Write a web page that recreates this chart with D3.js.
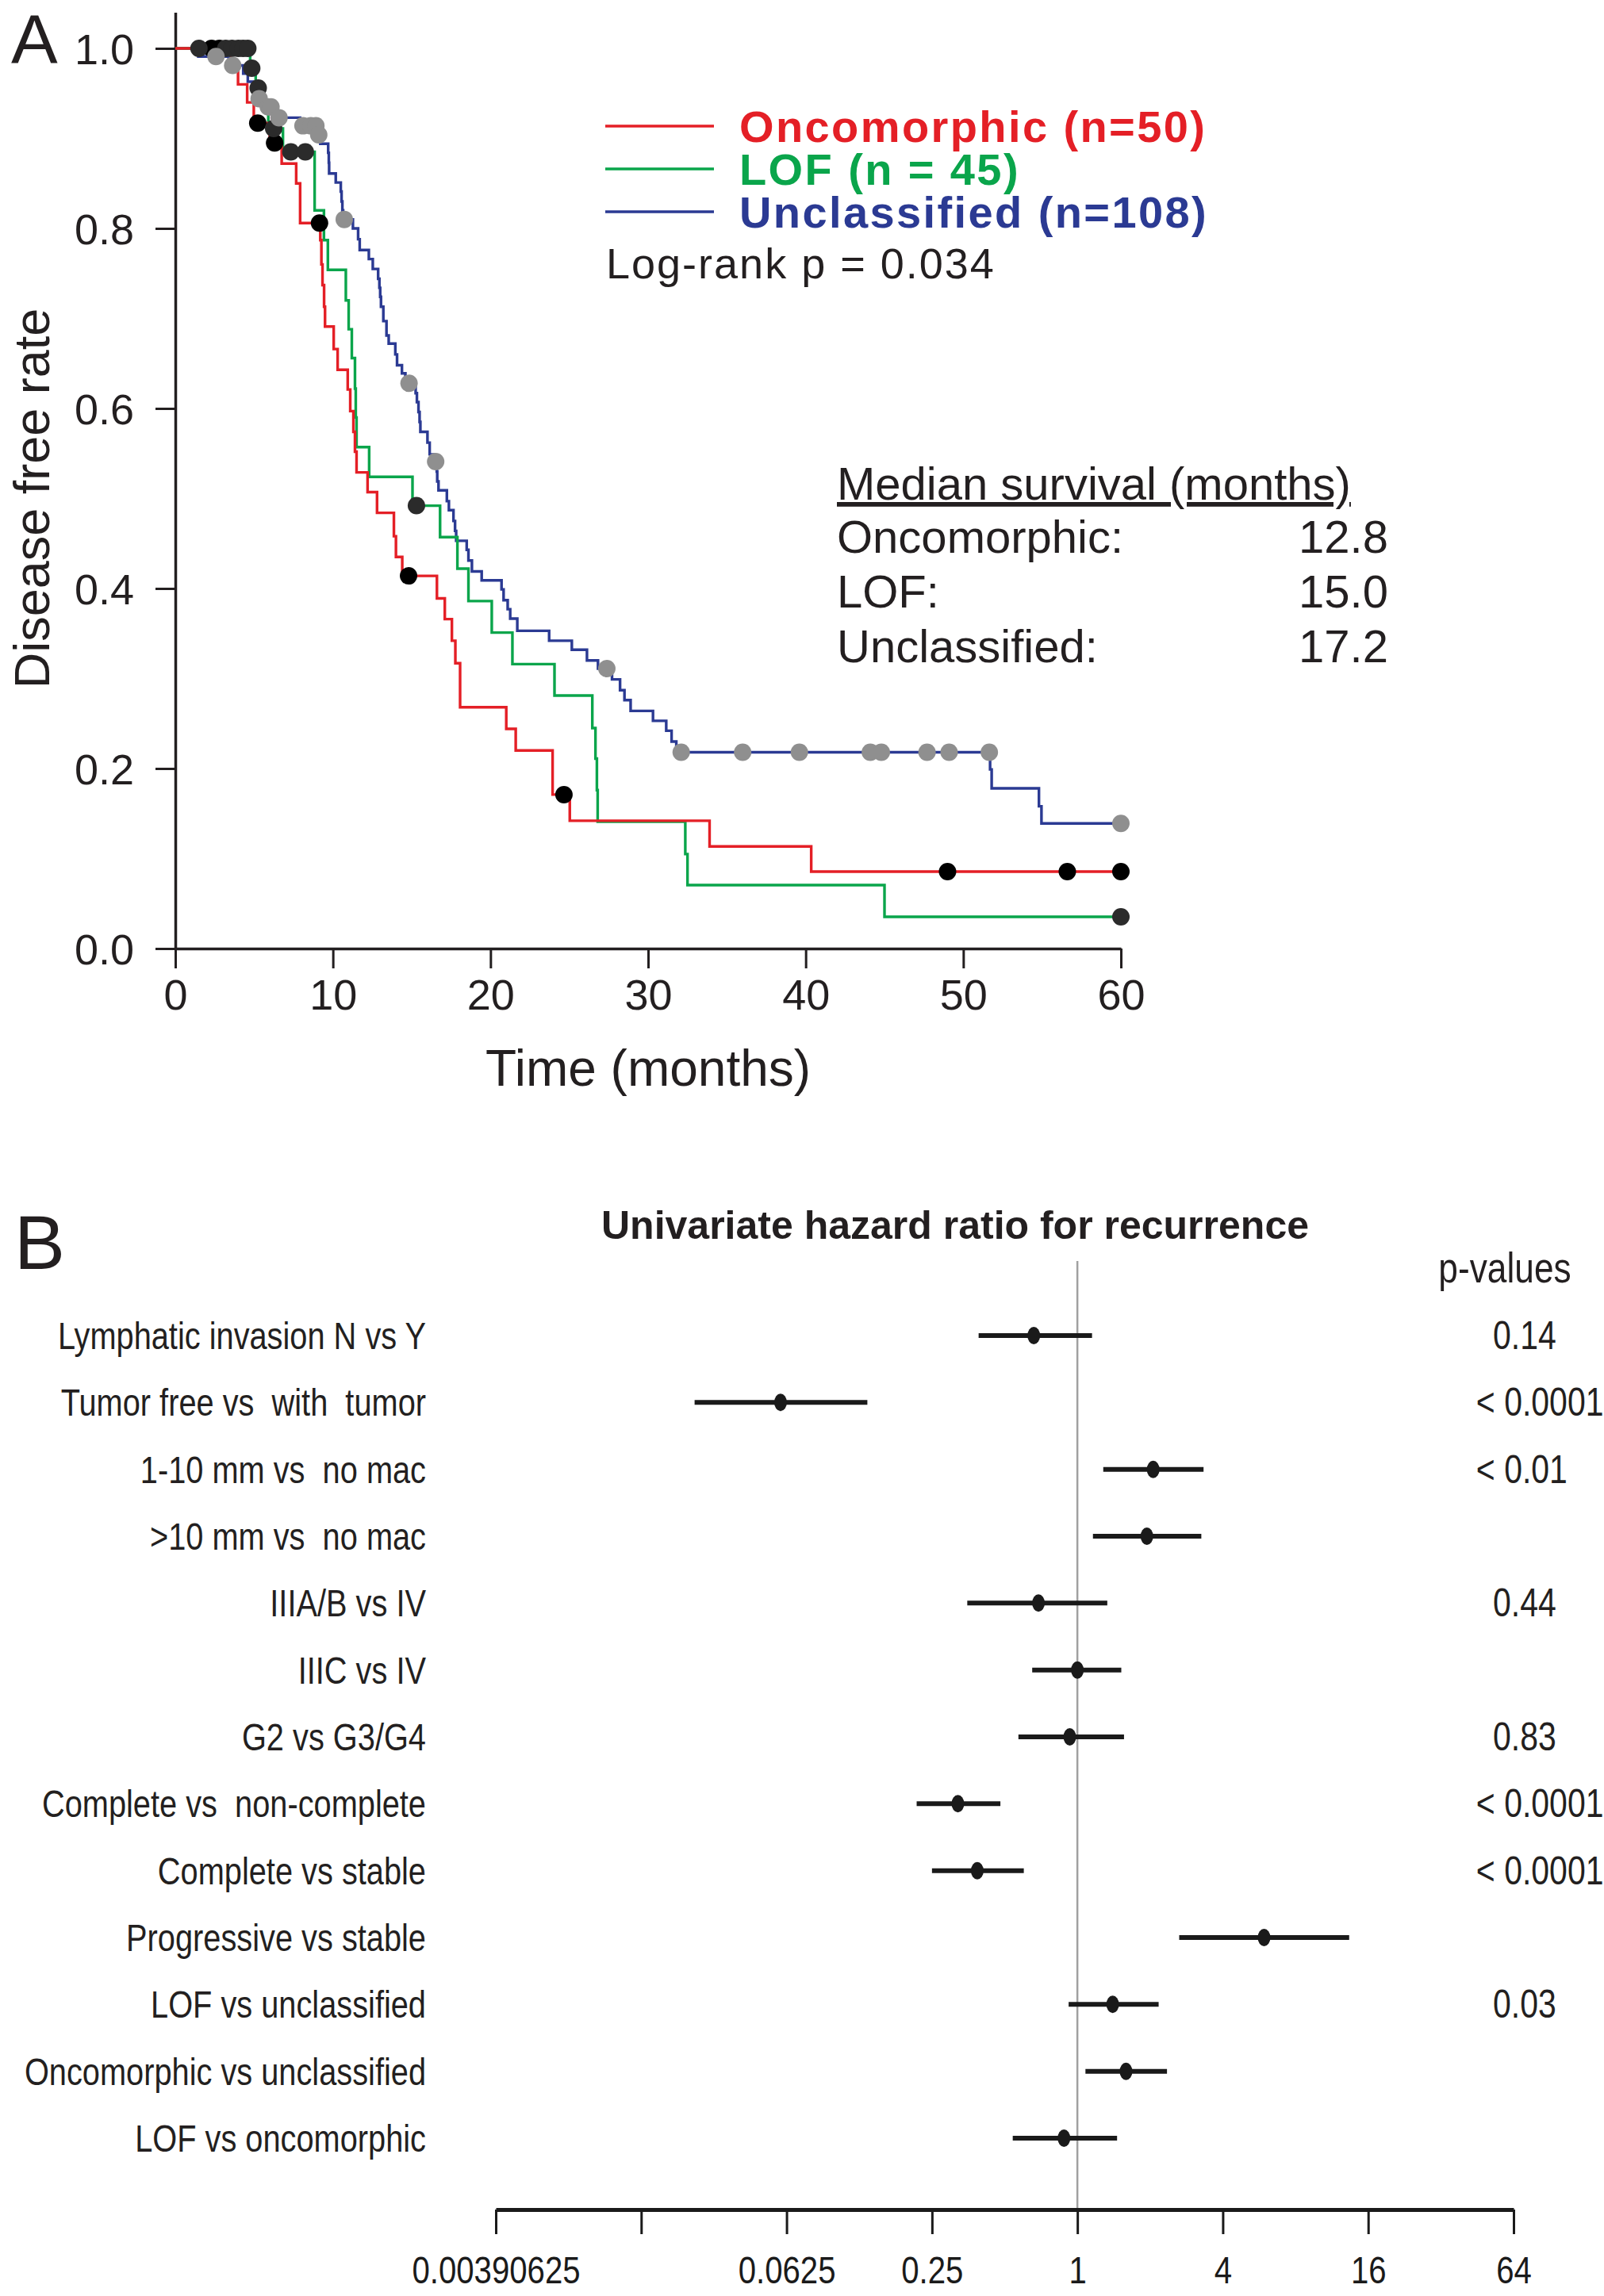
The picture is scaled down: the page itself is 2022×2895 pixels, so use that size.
<!DOCTYPE html>
<meta charset="utf-8">
<head>
    <title>Disease free survival and hazard ratios</title>
    <script src="https://cdn.jsdelivr.net/npm/d3@7"></script>
</head>

<style>
    body { margin: 0; background: #fff; }
    svg { display: block; font-family: "Liberation Sans", Arial, sans-serif; }
    text { white-space: pre; }
</style>

<svg></svg>

<script>
    var vWidth = 2022;
    var vHeight = 2895;

    // ---- Panel A: Kaplan-Meier curves, steps are [month, survival after the drop]
    var oncoSteps = [[3.56, 0.98], [3.98, 0.96], [4.56, 0.94], [4.98, 0.917], [5.99, 0.895], [6.75, 0.872],
        [7.67, 0.85], [7.92, 0.806], [9.2, 0.787], [9.27, 0.76], [9.34, 0.737], [9.44, 0.713], [9.5, 0.691],
        [10.05, 0.666], [10.3, 0.643], [10.94, 0.621], [11.1, 0.597], [11.3, 0.574], [11.4, 0.552], [11.5, 0.529],
        [12.2, 0.507], [12.8, 0.484], [13.87, 0.458], [14.0, 0.435], [14.4, 0.414], [16.6, 0.389], [17.1, 0.366],
        [17.55, 0.342], [17.77, 0.317], [18.07, 0.268], [21.0, 0.244], [21.6, 0.22], [23.94, 0.171], [25.03, 0.142],
        [33.9, 0.1135], [40.35, 0.0854]];
    var oncoCensor = [2.3, 2.8, 5.23, 6.3, 9.15, 14.8, 24.66, 49.0, 56.6, 60];

    var lofSteps = [[4.75, 0.978], [5.1, 0.956], [5.5, 0.933], [5.9, 0.911], [6.83, 0.885], [8.84, 0.82],
        [9.43, 0.787], [9.68, 0.754], [10.82, 0.72], [11.0, 0.688], [11.2, 0.656], [11.4, 0.622], [11.45, 0.59],
        [11.5, 0.557], [12.3, 0.524], [15.05, 0.492], [16.8, 0.457], [17.9, 0.422], [18.6, 0.386], [20.08, 0.351],
        [21.39, 0.316], [24.06, 0.281], [26.46, 0.245], [26.66, 0.211], [26.75, 0.176], [26.8, 0.141],
        [32.36, 0.105], [32.5, 0.0705], [45.0, 0.0352]];
    var lofCensor = [1.5, 3.2, 3.6, 4.0, 4.3, 4.6, 4.85, 5.26, 6.24, 7.33, 8.25, 15.3, 60];

    var unclSteps = [[1.46, 0.991], [3.39, 0.981], [4.31, 0.972], [4.6, 0.963], [4.9, 0.954], [5.2, 0.944],
        [5.7, 0.935], [6.45, 0.923], [7.92, 0.914], [9.05, 0.904], [9.2, 0.894], [9.7, 0.884], [9.74, 0.873],
        [9.76, 0.861], [10.18, 0.851], [10.5, 0.841], [10.55, 0.83], [10.6, 0.82], [10.65, 0.81], [11.27, 0.8],
        [11.6, 0.788], [11.7, 0.776], [12.28, 0.766], [12.53, 0.755], [12.87, 0.744], [12.95, 0.734], [13.0, 0.724],
        [13.05, 0.713], [13.2, 0.697], [13.4, 0.681], [13.54, 0.672], [13.96, 0.66], [14.07, 0.648], [14.38, 0.639],
        [14.6, 0.628], [15.25, 0.617], [15.33, 0.607], [15.43, 0.596], [15.5, 0.585], [15.55, 0.574], [16.0, 0.562],
        [16.14, 0.549], [16.4, 0.541], [16.59, 0.53], [16.62, 0.519], [16.7, 0.509], [17.23, 0.497], [17.36, 0.487],
        [17.65, 0.475], [17.75, 0.464], [17.82, 0.453], [18.49, 0.443], [18.6, 0.431], [18.82, 0.419], [19.44, 0.409],
        [20.7, 0.399], [20.83, 0.387], [21.09, 0.377], [21.25, 0.3665], [21.7, 0.353], [23.72, 0.342], [25.16, 0.332],
        [26.12, 0.32], [26.82, 0.311], [27.71, 0.299], [28.22, 0.287], [28.5, 0.276], [28.89, 0.264], [30.31, 0.253],
        [31.15, 0.242], [31.49, 0.23], [31.79, 0.218], [51.7, 0.199], [51.8, 0.178], [54.8, 0.158], [54.96, 0.139]];
    var unclCensor = [2.58, 3.64, 5.32, 5.9, 6.07, 6.58, 8.1, 8.6, 8.92, 9.1, 10.72, 14.83, 16.52, 27.38,
        32.1, 36.0, 39.6, 44.1, 44.8, 47.7, 49.1, 51.65, 60];

    var groupNames = ["Oncomorphic (n=50)", "LOF (n = 45)", "Unclassified (n=108)"];
    var groupColors = ["#e41f26", "#0aa54b", "#2b3a93"];
    var censorColors = ["#000000", "#2b2b2b", "#8f8f8f"];
    var medianLabels = ["Oncomorphic:", "LOF:", "Unclassified:"];
    var medianValues = ["12.8", "15.0", "17.2"];
    var monthTicks = [0, 10, 20, 30, 40, 50, 60];
    var rateTicks = [0, 0.2, 0.4, 0.6, 0.8, 1.0];

    // ---- Panel B: univariate hazard ratios
    var hrLabels = ["Lymphatic invasion N vs Y", "Tumor free vs  with  tumor", "1-10 mm vs  no mac", ">10 mm vs  no mac",
        "IIIA/B vs IV", "IIIC vs IV", "G2 vs G3/G4", "Complete vs  non-complete", "Complete vs stable",
        "Progressive vs stable", "LOF vs unclassified", "Oncomorphic vs unclassified", "LOF vs oncomorphic"];
    var hrPoint = [0.66, 0.059, 2.06, 1.94, 0.69, 1.0, 0.93, 0.32, 0.385, 5.93, 1.40, 1.59, 0.88];
    var hrLower = [0.39, 0.026, 1.28, 1.16, 0.35, 0.65, 0.57, 0.216, 0.25, 2.64, 0.92, 1.08, 0.54];
    var hrUpper = [1.15, 0.135, 3.33, 3.26, 1.33, 1.52, 1.56, 0.48, 0.60, 13.35, 2.17, 2.35, 1.46];
    var pValues = ["0.14", "< 0.0001", "< 0.01", "", "0.44", "", "0.83", "< 0.0001", "< 0.0001", "", "0.03", "", ""];
    var hrTicks = [0.00390625, 0.015625, 0.0625, 0.25, 1, 4, 16, 64];
    var hrTickLabels = ["0.00390625", "", "0.0625", "0.25", "1", "4", "16", "64"];

    // panel B text is set in a condensed face; squeeze Liberation Sans to get it
    var narrow = 0.82;

    var svg = d3.select('svg')
        .attr('width', vWidth)
        .attr('height', vHeight);
    svg.append('rect').attr('width', vWidth).attr('height', vHeight).attr('fill', '#fff');

    // ================= Panel A =================
    var x = d3.scaleLinear().domain([0, 60]).range([221, 1413]);
    var y = d3.scaleLinear().domain([0, 1.04]).range([1196, 1196 - 1.04 * 1135]);

    var gA = svg.append('g');

    var yAxis = gA.append('g')
        .attr('transform', 'translate(' + x(0) + ',0)')
        .call(d3.axisLeft(y).tickValues(rateTicks).tickFormat(d3.format('.1f'))
            .tickSize(25).tickSizeOuter(0).tickPadding(27));
    var xAxis = gA.append('g')
        .attr('transform', 'translate(0,' + y(0) + ')')
        .call(d3.axisBottom(x).tickValues(monthTicks).tickSize(25).tickSizeOuter(0).tickPadding(14));
    [yAxis, xAxis].forEach(function (ax) {
        ax.select('.domain').attr('stroke', '#231f20').attr('stroke-width', 3.5);
        ax.selectAll('.tick line').attr('stroke', '#231f20').attr('stroke-width', 3);
        ax.selectAll('.tick text').attr('fill', '#231f20').style('font-size', '54px')
            .style('font-family', '"Liberation Sans", Arial, sans-serif');
    });
    yAxis.selectAll('.tick text').attr('dy', '0.36em');

    gA.append('text')
        .attr('x', x(30)).attr('y', 1347)
        .attr('text-anchor', 'middle').attr('dominant-baseline', 'central')
        .attr('fill', '#231f20').style('font-size', '64px')
        .text('Time (months)');
    gA.append('text')
        .attr('transform', 'translate(40,' + y(0.5) + ') rotate(-90)')
        .attr('text-anchor', 'middle').attr('dominant-baseline', 'central')
        .attr('fill', '#231f20').style('font-size', '63px')
        .text('Disease free rate');
    gA.append('text')
        .attr('x', 14).attr('y', 80)
        .attr('fill', '#231f20').style('font-size', '88px')
        .text('A');

    var steps = [oncoSteps, lofSteps, unclSteps];
    var censors = [oncoCensor, lofCensor, unclCensor];

    function survAt(st, t) {
        var s = 1;
        st.forEach(function (p) { if (p[0] <= t) s = p[1]; });
        return s;
    }

    var line = d3.line()
        .x(function (d) { return x(d[0]); })
        .y(function (d) { return y(d[1]); })
        .curve(d3.curveStepAfter);

    // blue under, red on top
    [2, 1, 0].forEach(function (i) {
        var st = steps[i];
        var pts = [[0, 1]].concat(st).concat([[60, st[st.length - 1][1]]]);
        gA.append('path')
            .datum(pts)
            .attr('d', line)
            .attr('fill', 'none')
            .attr('stroke', groupColors[i])
            .attr('stroke-width', 3.4);
    });

    [0, 1, 2].forEach(function (i) {
        gA.append('g').selectAll('circle')
            .data(censors[i]).enter().append('circle')
            .attr('cx', function (t) { return x(t); })
            .attr('cy', function (t) { return y(survAt(steps[i], t)); })
            .attr('r', 11)
            .attr('fill', censorColors[i]);
    });

    // legend
    var legY = [159, 213, 267];
    var leg = gA.append('g');
    groupNames.forEach(function (name, i) {
        leg.append('line')
            .attr('x1', 763).attr('x2', 900)
            .attr('y1', legY[i]).attr('y2', legY[i])
            .attr('stroke', groupColors[i]).attr('stroke-width', 3.4);
        leg.append('text')
            .attr('x', 932).attr('y', legY[i])
            .attr('dominant-baseline', 'central')
            .attr('fill', groupColors[i])
            .style('font-size', '56px').style('font-weight', 'bold').style('letter-spacing', '2.4px')
            .text(name);
    });
    leg.append('text')
        .attr('x', 764).attr('y', 351)
        .attr('fill', '#231f20').style('font-size', '54px').style('letter-spacing', '2px')
        .text('Log-rank p = 0.034');

    // median survival table
    var med = gA.append('g');
    med.append('text')
        .attr('x', 1055).attr('y', 630)
        .attr('fill', '#231f20').style('font-size', '58px')
        .style('text-decoration', 'underline')
        .text('Median survival (months)');
    medianLabels.forEach(function (lab, i) {
        med.append('text')
            .attr('x', 1055).attr('y', 697 + i * 69)
            .attr('fill', '#231f20').style('font-size', '58px')
            .text(lab);
        med.append('text')
            .attr('x', 1750).attr('y', 697 + i * 69)
            .attr('text-anchor', 'end')
            .attr('fill', '#231f20').style('font-size', '58px')
            .text(medianValues[i]);
    });

    // ================= Panel B =================
    var hx = d3.scaleLog().base(4).domain([0.00390625, 64]).range([625, 1908]);
    var hy = d3.scalePoint().domain(d3.range(hrLabels.length)).range([1684, 2696]);
    var gB = svg.append('g');

    gB.append('text')
        .attr('x', 18).attr('y', 1600)
        .attr('fill', '#231f20').style('font-size', '96px')
        .text('B');
    gB.append('text')
        .attr('x', 1204).attr('y', 1562)
        .attr('text-anchor', 'middle')
        .attr('fill', '#231f20').style('font-size', '50px').style('font-weight', 'bold')
        .text('Univariate hazard ratio for recurrence');
    gB.append('text')
        .attr('transform', 'translate(1897,1598) scale(' + narrow + ',1)')
        .attr('text-anchor', 'middle').attr('dominant-baseline', 'central')
        .attr('fill', '#231f20').style('font-size', '54px')
        .text('p-values');

    // reference line at HR = 1
    gB.append('line')
        .attr('x1', hx(1)).attr('x2', hx(1))
        .attr('y1', 1590).attr('y2', 2786)
        .attr('stroke', '#a0a0a0').attr('stroke-width', 2.5);

    var hAxis = gB.append('g')
        .attr('transform', 'translate(0,2786)')
        .call(d3.axisBottom(hx).tickValues(hrTicks)
            .tickFormat(function (d, i) { return hrTickLabels[i]; })
            .tickSize(31).tickSizeOuter(0).tickPadding(27));
    hAxis.select('.domain').attr('stroke', '#1a1a1a').attr('stroke-width', 5);
    hAxis.selectAll('.tick line').attr('stroke', '#1a1a1a').attr('stroke-width', 3);
    hAxis.selectAll('.tick text').attr('fill', '#1a1a1a').style('font-size', '49px')
        .style('font-family', '"Liberation Sans", Arial, sans-serif')
        .attr('transform', 'scale(' + narrow + ',1)');

    var rows = gB.append('g').selectAll('g')
        .data(hrLabels).enter().append('g')
        .attr('transform', function (d, i) { return 'translate(0,' + hy(i) + ')'; });

    rows.append('text')
        .attr('transform', 'translate(537,0) scale(' + narrow + ',1)')
        .attr('text-anchor', 'end').attr('dominant-baseline', 'central')
        .attr('fill', '#231f20').style('font-size', '48.5px')
        .text(function (d) { return d; });

    rows.append('line')
        .attr('x1', function (d, i) { return hx(hrLower[i]); })
        .attr('x2', function (d, i) { return hx(hrUpper[i]); })
        .attr('stroke', '#1a1a1a').attr('stroke-width', 6);

    rows.append('ellipse')
        .attr('cx', function (d, i) { return hx(hrPoint[i]); })
        .attr('rx', 8).attr('ry', 11)
        .attr('fill', '#1a1a1a');

    var pText = rows.append('text')
        .attr('transform', 'translate(1882,0) scale(' + narrow + ',1)')
        .attr('dominant-baseline', 'central')
        .attr('fill', '#231f20').style('font-size', '50px')
        .text(function (d, i) { return pValues[i]; });

    // hang the "< " prefix to the left so the numbers line up
    var probe = gB.append('text').style('font-size', '50px').text('< ');
    var prefixW = probe.node().getComputedTextLength() * 0.6;
    probe.remove();
    pText.attr('x', function (d, i) { return pValues[i].charAt(0) === '<' ? -prefixW : 0; });
</script>
